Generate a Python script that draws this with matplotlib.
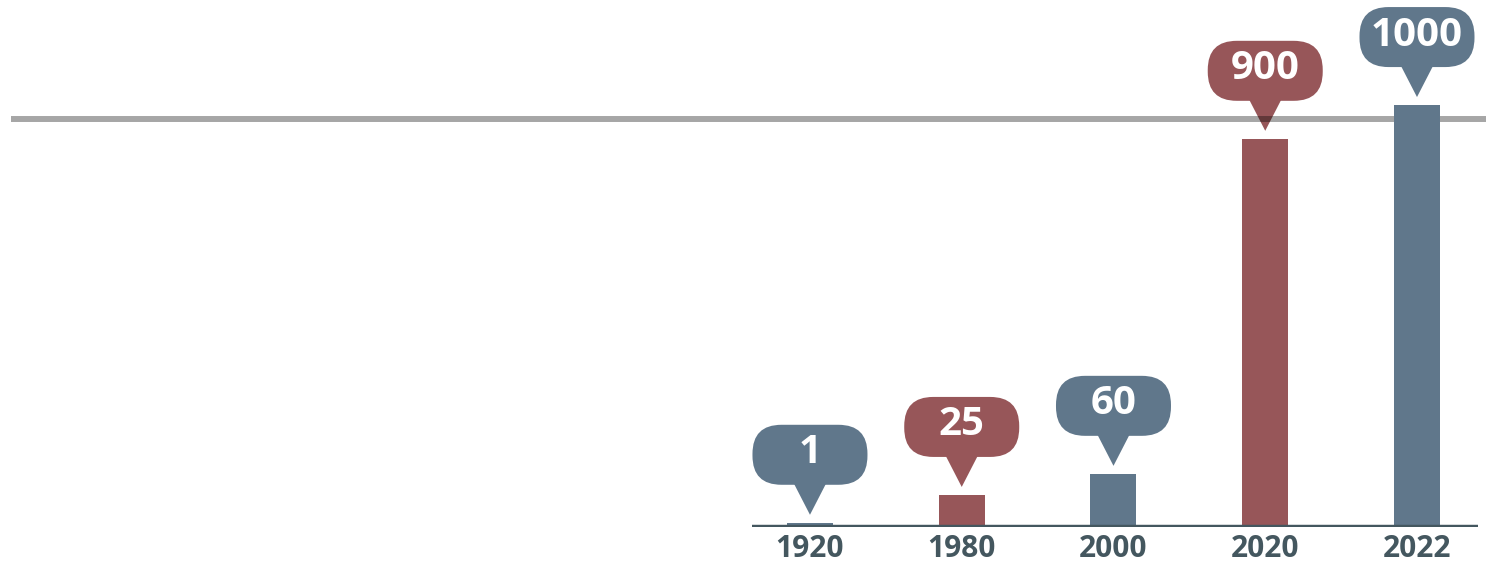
import matplotlib.pyplot as plt
from matplotlib.patches import FancyBboxPatch, Polygon
from matplotlib.transforms import ScaledTranslation, blended_transform_factory

# data
years = ['1920', '1980', '2000', '2020', '2022']
labels = ['1', '25', '60', '900', '1000']
heights = [10, 76, 126, 920, 1000]   # drawn bar heights (not to label scale)
ref_level = 968

blue = '#60778b'
red = '#975659'
cols = [blue, red, blue, red, blue]
dark = '#44575f'

plt.rcParams['font.family'] = ['Open Sans', 'DejaVu Sans']

fig = plt.figure(figsize=(14.86, 5.70), dpi=100)
ax = fig.add_axes([752/1486, 1-527/570, (1478-752)/1486, 527/570])
ax.set_xlim(-0.382, 4.402)
ax.set_ylim(0, 1249)

x = range(len(years))
ax.bar(x, heights, width=0.303, color=cols, zorder=3)
ax.axhline(0, color=dark, lw=3.2, zorder=4)

for s in ax.spines.values():
    s.set_visible(False)
ax.set_yticks([])
ax.set_xticks(list(x), years)
ax.tick_params(axis='x', length=0, pad=5, labelsize=21.5, labelcolor=dark)
for t in ax.get_xticklabels():
    t.set_fontweight('bold')

# long grey reference line across the figure (translucent, darkens bubbles)
tr_line = blended_transform_factory(fig.transFigure, ax.transData)
ax.plot([11/1486, 1], [ref_level, ref_level], transform=tr_line, color='black',
        alpha=0.35, lw=4.3, clip_on=False, zorder=2, solid_capstyle='butt')

# speech bubble labels (sizes in inches)
for i in x:
    tr = fig.dpi_scale_trans + ScaledTranslation(i, heights[i], ax.transData)
    body = FancyBboxPatch((-0.575, 0.38), 1.15, 0.60,
                          boxstyle='round,pad=0,rounding_size=0.29',
                          transform=tr, fc=cols[i], ec='none', clip_on=False, zorder=1)
    tip = Polygon([(-0.175, 0.42), (0.175, 0.42), (0, 0.08)], closed=True,
                  transform=tr, fc=cols[i], ec='none', clip_on=False, zorder=1)
    ax.add_patch(tip)
    ax.add_patch(body)
    ax.text(0, 0.70, labels[i], transform=tr, ha='center', va='center',
            color='white', fontsize=29, fontweight='bold', zorder=6)

plt.savefig('out.png', dpi=100)
